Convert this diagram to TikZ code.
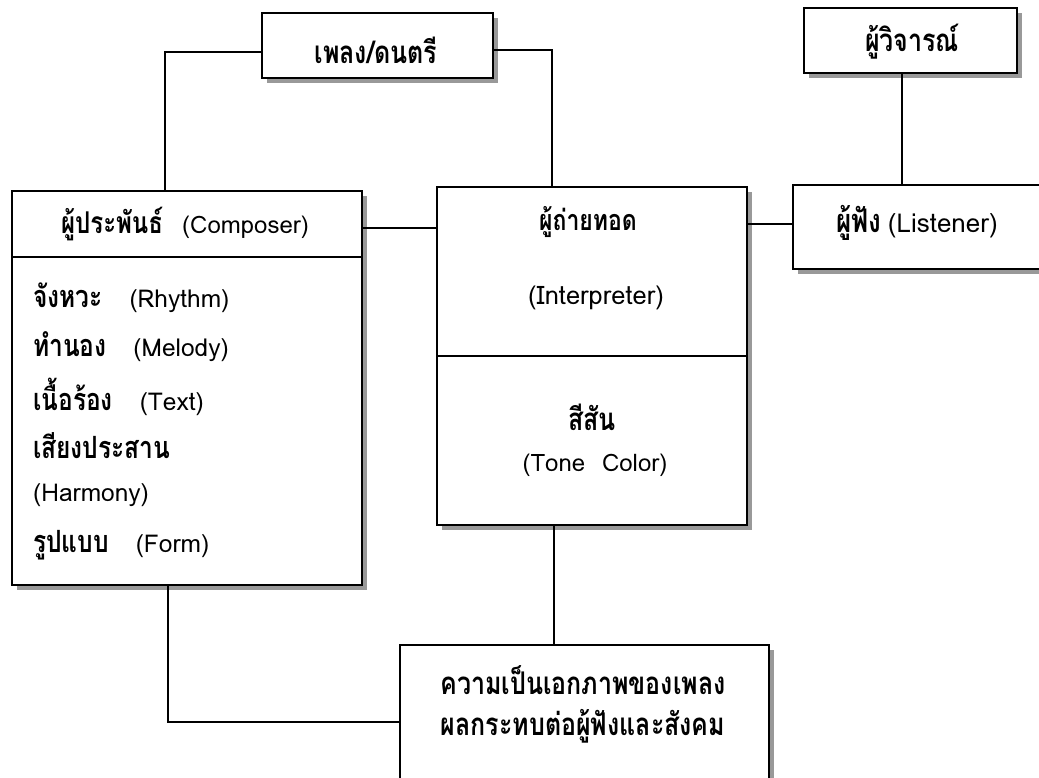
\documentclass[tikz,border=0pt]{standalone}
\usepackage{fontspec}
\usepackage{graphicx}
\newfontfamily\thaifont[Script=Thai]{Loma}
\newcommand\thb[1]{\scalebox{1}[1.25]{\thaifont\bfseries #1}}
\newcommand\lat[1]{{\thaifont #1}}
\newcommand\fsz[1]{\fontsize{#1}{#1}\selectfont\thaifont}
\begin{document}
\begin{tikzpicture}[x=1pt,y=-1pt,
  box/.style={draw, line width=2pt, fill=white, rectangle, inner sep=0pt,
    preaction={fill=black!40, transform canvas={xshift=5pt, yshift=-5pt}}},
  conn/.style={line width=1.6pt},
  sep/.style={line width=2pt},
  txt/.style={inner sep=0pt}]
\useasboundingbox (0,0) rectangle (1039,778);
\clip (0,0) rectangle (1039,778);
\fill[white] (0,0) rectangle (1039,778);

% boxes
\node[box, minimum width=231pt, minimum height=65pt] (music) at (377.5,45.5) {};
\node[box, minimum width=213pt, minimum height=65pt] (critic) at (910.5,40.5) {};
\node[box, minimum width=350pt, minimum height=394pt] (comp) at (187,388) {};
\node[box, minimum width=310pt, minimum height=338pt] (interp) at (592,356) {};
\node[box, minimum width=249pt, minimum height=84pt] (listen) at (917.5,227) {};
\node[box, minimum width=369pt, minimum height=137pt] (unity) at (584.5,713.5) {};

% separators
\draw[sep] (comp.west |- 0,257) -- (comp.east |- 0,257);
\draw[sep] (interp.west) -- (interp.east);

% top texts
\node[txt, font=\fsz{25}] (musict) at (376,50) {\thb{เพลง/ดนตรี}};
\node[txt, font=\fsz{25}] (critict) at (912,42) {\thb{ผู้วิจารณ์}};
\node[txt, font=\fsz{26}] (listent) at (917,223) {\thb{ผู้ฟัง}\hspace{0.25em}\lat{(Listener)}};

% composer texts
\node[txt, font=\fsz{24}] (comph) at (185,224) {\thb{ผู้ประพันธ์}\hspace{0.8em}\lat{(Composer)}};
\begin{scope}[every node/.style={txt, anchor=west, font=\fsz{24.5}}]
\node (r1) at (33,298) {\thb{จังหวะ}\hspace{1.1em}\lat{(Rhythm)}};
\node (r2) at (33,347) {\thb{ทำนอง}\hspace{1.1em}\lat{(Melody)}};
\node (r3) at (33,397) {\thb{เนื้อร้อง}\hspace{1.1em}\lat{(Text)}};
\node (r4) at (33,446) {\thb{เสียงประสาน}};
\node (r5) at (33,495) {\lat{(Harmony)}};
\node (r6) at (33,545) {\thb{รูปแบบ}\hspace{1.1em}\lat{(Form)}};
\end{scope}

% interpreter texts
\node[txt, font=\fsz{23}] (i1) at (588,222) {\thb{ผู้ถ่ายทอด}};
\node[txt, font=\fsz{25.5}] (i2) at (596,298) {\lat{(Interpreter)}};
\node[txt, font=\fsz{25}] (i3) at (592,417) {\thb{สีสัน}};
\node[txt, font=\fsz{24}] (i4) at (595,465) {\lat{(Tone\hspace{0.7em}Color)}};

% unity texts
\node[txt, font=\fsz{25}] (u1) at (583,680) {\thb{ความเป็นเอกภาพของเพลง}};
\node[txt, font=\fsz{25}] (u2) at (583,726) {\thb{ผลกระทบต่อผู้ฟังและสังคม}};

% connectors
\draw[conn] ([yshift=-6.5pt]music.west) -| ([xshift=-22pt]comp.north);
\draw[conn] ([yshift=-4.5pt]music.east) -| ([xshift=-40pt]interp.north);
\draw[conn] ([yshift=-4pt]comph.center -| comp.east) -- ([yshift=-4pt]comph.center -| interp.west);
\draw[conn] ([yshift=3pt]listen.west -| interp.east) -- ([yshift=3pt]listen.west);
\draw[conn] ([xshift=-8.5pt]critic.south) -- ([xshift=-8.5pt]critic.south |- listen.north);
\draw[conn] ([xshift=-38pt]interp.south) -- ([xshift=-38pt]interp.south |- unity.north);
\draw[conn] ([xshift=-19pt]comp.south) |- ([yshift=-8.5pt]unity.west);
\end{tikzpicture}
\end{document}
